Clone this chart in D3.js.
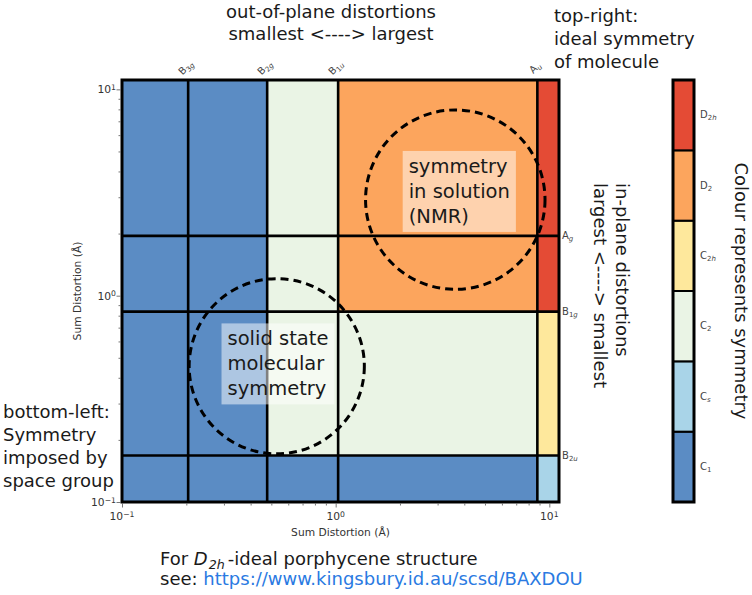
<!DOCTYPE html>
<html>
<head>
<meta charset="utf-8">
<script src="https://cdn.jsdelivr.net/npm/d3@7"></script>
<style>
body { margin: 0; background: #fff; }
text { font-family: "DejaVu Sans", Verdana, sans-serif; }
</style>
</head>
<body>
<div id="chart"></div>
<script>
// irrep thresholds along each axis (sum distortion, Angstrom)
var xCuts = [0.204, 0.478, 1.027, 8.79];
var xCutLabels = [["B", "3g"], ["B", "2g"], ["B", "1u"], ["A", "u"]];
var yCuts = [0.168, 0.837, 1.95];
var yCutLabels = [["B", "2u"], ["B", "1g"], ["A", "g"]];

var axisDomain = [0.1, 11.1];
var majorTicks = [0.1, 1, 10];
var minorTicks = [0.2, 0.3, 0.4, 0.5, 0.6, 0.7, 0.8, 0.9, 2, 3, 4, 5, 6, 7, 8, 9];

// symmetry classes, lowest to highest
var symNames = [["C", "1"], ["C", "s"], ["C", "2"], ["C", "2h"], ["D", "2"], ["D", "2h"]];
var symColors = ["#5b8cc4", "#a9d4e8", "#eaf4e5", "#fee89c", "#fca55d", "#e44b35"];

// symmetry index of each cell, rows bottom -> top, columns left -> right
var cellSym = [
	[0, 0, 0, 0, 1],
	[0, 0, 2, 2, 3],
	[0, 0, 2, 4, 5],
	[0, 0, 2, 4, 5]
];

// dashed circles (centre in data units, radius in decades) and their notes
var circles = [
	{ cx: 0.53, cy: 0.455, r: 0.41, lx: 0.537, ly: 0.467, lines: ["solid state", "molecular", "symmetry"] },
	{ cx: 3.63, cy: 2.92, r: 0.42, lx: 3.79, ly: 3.20, lines: ["symmetry", "in solution", "(NMR)"] }
];

var width = 752, height = 595;
var plot = { left: 122, right: 559, top: 80, bottom: 502 };

var svg = d3.select("#chart").append("svg")
	.attr("width", width)
	.attr("height", height);

var xScale = d3.scaleLog().domain(axisDomain).range([plot.left, plot.right]);
var yScale = d3.scaleLog().domain(axisDomain).range([plot.bottom, plot.top]);

// label with subscript: digits upright, letters italic
function subLabel(sel, parts, italicMain) {
	sel.append("tspan").text(parts[0]).style("font-style", italicMain ? "italic" : null);
	var first = true;
	parts[1].split("").forEach(function(ch) {
		var t = sel.append("tspan")
			.attr("font-size", "0.7em")
			.style("font-style", /[a-z]/.test(ch) ? "italic" : "normal")
			.text(ch);
		if (first) { t.attr("dy", "0.3em"); first = false; }
	});
}

function powLabel(sel, v) {
	var e = Math.round(Math.log10(v));
	sel.text("10");
	sel.append("tspan").attr("dy", "-0.45em").attr("font-size", "0.72em")
		.text(e < 0 ? "\u2212" + (-e) : e);
}

//
// Cells
//
var xEdges = [axisDomain[0]].concat(xCuts, [axisDomain[1]]);
var yEdges = [axisDomain[0]].concat(yCuts, [axisDomain[1]]);
var cells = [];
cellSym.forEach(function(row, ri) {
	row.forEach(function(s, ci) {
		cells.push({ x0: xEdges[ci], x1: xEdges[ci + 1], y0: yEdges[ri], y1: yEdges[ri + 1], s: s });
	});
});

svg.append("g").selectAll("rect")
	.data(cells)
	.enter()
	.append("rect")
	.attr("x", function(d) { return xScale(d.x0); })
	.attr("y", function(d) { return yScale(d.y1); })
	.attr("width", function(d) { return xScale(d.x1) - xScale(d.x0); })
	.attr("height", function(d) { return yScale(d.y0) - yScale(d.y1); })
	.attr("fill", function(d) { return symColors[d.s]; });

// grid lines
svg.append("g").selectAll("line")
	.data(xCuts)
	.enter()
	.append("line")
	.attr("x1", xScale).attr("x2", xScale)
	.attr("y1", plot.top).attr("y2", plot.bottom)
	.attr("stroke", "#000").attr("stroke-width", 2.6);

svg.append("g").selectAll("line")
	.data(yCuts)
	.enter()
	.append("line")
	.attr("y1", yScale).attr("y2", yScale)
	.attr("x1", plot.left).attr("x2", plot.right)
	.attr("stroke", "#000").attr("stroke-width", 2.6);

// dashed circles
svg.append("g").selectAll("circle")
	.data(circles)
	.enter()
	.append("circle")
	.attr("cx", function(d) { return xScale(d.cx); })
	.attr("cy", function(d) { return yScale(d.cy); })
	.attr("r", function(d) { return xScale(d.cx * Math.pow(10, d.r)) - xScale(d.cx); })
	.attr("fill", "none")
	.attr("stroke", "#000")
	.attr("stroke-width", 3)
	.attr("stroke-dasharray", "8,5");

// notes with half-transparent boxes
circles.forEach(function(c) {
	var g = svg.append("g");
	var box = g.append("rect").attr("fill", "#fff").attr("fill-opacity", 0.5);
	var txt = g.append("text").attr("font-size", 19.5).attr("fill", "#1a1a1a");
	c.lines.forEach(function(l, i) {
		txt.append("tspan").attr("x", 0).attr("dy", i == 0 ? 0 : 25).text(l);
	});
	var bb = txt.node().getBBox();
	var pad = 6;
	box.attr("x", bb.x - pad).attr("y", bb.y - pad + 2)
		.attr("width", bb.width + 2 * pad).attr("height", bb.height + 2 * pad - 4);
	var tx = xScale(c.lx) - (bb.x + bb.width / 2);
	var ty = yScale(c.ly) - (bb.y + bb.height / 2);
	g.attr("transform", "translate(" + tx + "," + ty + ")");
});

// frame
svg.append("rect")
	.attr("x", plot.left).attr("y", plot.top)
	.attr("width", plot.right - plot.left).attr("height", plot.bottom - plot.top)
	.attr("fill", "none").attr("stroke", "#000").attr("stroke-width", 3);

//
// Axes
//
var xAxis = d3.axisBottom(xScale).tickValues(majorTicks).tickSize(4).tickFormat("");
var xMinor = d3.axisBottom(xScale).tickValues(minorTicks).tickSize(2).tickFormat("");
var yAxis = d3.axisLeft(yScale).tickValues(majorTicks).tickSize(4).tickFormat("");
var yMinor = d3.axisLeft(yScale).tickValues(minorTicks).tickSize(2).tickFormat("");

[[xAxis, "translate(0," + (plot.bottom + 1.5) + ")"], [xMinor, "translate(0," + (plot.bottom + 1.5) + ")"],
 [yAxis, "translate(" + (plot.left - 1.5) + ",0)"], [yMinor, "translate(" + (plot.left - 1.5) + ",0)"]].forEach(function(a) {
	var g = svg.append("g").attr("transform", a[1]).call(a[0]);
	g.select(".domain").remove();
	g.selectAll("line").attr("stroke", "#555").attr("stroke-width", 0.8);
});

svg.append("g").selectAll("text")
	.data(majorTicks)
	.enter()
	.append("text")
	.attr("x", xScale)
	.attr("y", plot.bottom + 18)
	.attr("text-anchor", "middle")
	.attr("font-size", 10.7)
	.attr("fill", "#333")
	.each(function(d) { powLabel(d3.select(this), d); });

svg.append("g").selectAll("text")
	.data(majorTicks)
	.enter()
	.append("text")
	.attr("x", plot.left - 6)
	.attr("y", function(d) { return yScale(d) + 4; })
	.attr("text-anchor", "end")
	.attr("font-size", 10.7)
	.attr("fill", "#333")
	.each(function(d) { powLabel(d3.select(this), d); });

svg.append("text")
	.attr("x", (plot.left + plot.right) / 2)
	.attr("y", plot.bottom + 34)
	.attr("text-anchor", "middle")
	.attr("font-size", 10.7)
	.attr("fill", "#333")
	.text("Sum Distortion (\u00c5)");

svg.append("text")
	.attr("transform", "translate(81," + ((plot.top + plot.bottom) / 2) + ") rotate(-90)")
	.attr("text-anchor", "middle")
	.attr("font-size", 10.7)
	.attr("fill", "#333")
	.text("Sum Distortion (\u00c5)");

// irrep labels on top (rotated) and right
svg.append("g").selectAll("text")
	.data(xCuts)
	.enter()
	.append("text")
	.attr("transform", function(d) { return "translate(" + xScale(d) + ",70) rotate(-45)"; })
	.attr("text-anchor", "middle")
	.attr("font-size", 10)
	.attr("fill", "#444")
	.each(function(d, i) { subLabel(d3.select(this), xCutLabels[i]); });

svg.append("g").selectAll("text")
	.data(yCuts)
	.enter()
	.append("text")
	.attr("x", plot.right + 3)
	.attr("y", function(d) { return yScale(d) + 3; })
	.attr("font-size", 10)
	.attr("fill", "#444")
	.each(function(d, i) { subLabel(d3.select(this), yCutLabels[i]); });

//
// Colour bar
//
var cbar = { left: 673, right: 694 };
var cbScale = d3.scaleBand()
	.domain(d3.range(symNames.length).reverse())
	.range([plot.top, plot.bottom]);

svg.append("g").selectAll("rect")
	.data(d3.range(symNames.length))
	.enter()
	.append("rect")
	.attr("x", cbar.left)
	.attr("y", function(d) { return cbScale(d); })
	.attr("width", cbar.right - cbar.left)
	.attr("height", cbScale.bandwidth())
	.attr("fill", function(d) { return symColors[d]; })
	.attr("stroke", "#000")
	.attr("stroke-width", 2);

svg.append("rect")
	.attr("x", cbar.left).attr("y", plot.top)
	.attr("width", cbar.right - cbar.left).attr("height", plot.bottom - plot.top)
	.attr("fill", "none").attr("stroke", "#000").attr("stroke-width", 3);

svg.append("g").selectAll("text")
	.data(d3.range(symNames.length))
	.enter()
	.append("text")
	.attr("x", cbar.right + 6)
	.attr("y", function(d) { return cbScale(d) + cbScale.bandwidth() / 2 + 3; })
	.attr("font-size", 10)
	.attr("fill", "#444")
	.each(function(d) { subLabel(d3.select(this), symNames[d]); });

svg.append("text")
	.attr("transform", "translate(735," + ((plot.top + plot.bottom) / 2) + ") rotate(90)")
	.attr("text-anchor", "middle")
	.attr("font-size", 18)
	.attr("fill", "#1a1a1a")
	.text("Colour represents symmetry");

//
// Annotations
//
function multiline(x, y, lines, anchor, lineH) {
	var t = svg.append("text")
		.attr("font-size", 18)
		.attr("fill", "#1a1a1a")
		.attr("text-anchor", anchor);
	lines.forEach(function(l, i) {
		t.append("tspan").attr("x", x).attr("y", y + i * lineH).text(l);
	});
	return t;
}

multiline(331, 18, ["out-of-plane distortions", "smallest <----> largest"], "middle", 22);
multiline(554, 21.5, ["top-right:", "ideal symmetry", "of molecule"], "start", 23.3);
multiline(3, 418, ["bottom-left:", "Symmetry", "imposed by", "space group"], "start", 23);

// rotated in-plane note, one text per line
[["in-plane distortions", 616], ["largest <----> smallest", 594]].forEach(function(d) {
	svg.append("text")
		.attr("transform", "translate(" + d[1] + ",183) rotate(90)")
		.attr("font-size", 18)
		.attr("fill", "#1a1a1a")
		.text(d[0]);
});

// footer; subscript kept as one span so its glyphs do not collide
var foot = svg.append("text")
	.attr("x", 160)
	.attr("y", 565)
	.attr("font-size", 18)
	.attr("fill", "#1a1a1a");
foot.append("tspan").text("For ");
foot.append("tspan").style("font-style", "italic").text("D");
foot.append("tspan").attr("dy", "0.3em").attr("dx", 1).attr("font-size", "0.7em").style("font-style", "italic").text("2h");
foot.append("tspan").attr("dy", "-0.21em").attr("dx", 3).text("-ideal porphycene structure");

var see = svg.append("text")
	.attr("x", 160)
	.attr("y", 585)
	.attr("font-size", 18)
	.attr("fill", "#1a1a1a");
see.append("tspan").text("see: ");
see.append("tspan").attr("fill", "#2a7ae2").text("https://www.kingsbury.id.au/scsd/BAXDOU");
</script>
</body>
</html>
